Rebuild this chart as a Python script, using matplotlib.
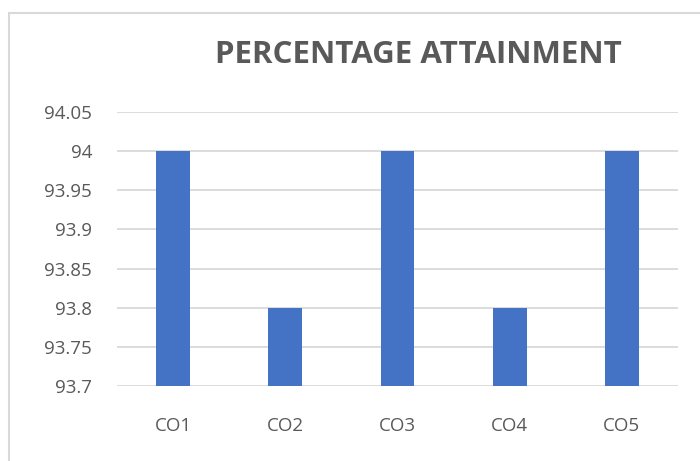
import matplotlib.pyplot as plt
from matplotlib.patches import Rectangle

# Data
categories = ['CO1', 'CO2', 'CO3', 'CO4', 'CO5']
attainment = [94, 93.8, 94, 93.8, 94]
y_ticks = [93.7, 93.75, 93.8, 93.85, 93.9, 93.95, 94, 94.05]
y_tick_labels = ['93.7', '93.75', '93.8', '93.85', '93.9', '93.95', '94', '94.05']

plt.rcParams['font.family'] = ['Open Sans', 'DejaVu Sans']
text_gray = '#595959'
grid_gray = '#D9D9D9'

W, H = 700, 461
fig = plt.figure(figsize=(W / 100, H / 100), dpi=100)

# outer chart border (cropped on right and bottom)
fig.add_artist(Rectangle((9 / W, -0.1), 1.2, 1 - 13 / H + 0.1,
                         transform=fig.transFigure, fill=False,
                         edgecolor=grid_gray, linewidth=1.5))

ax = fig.add_axes([117 / W, 1 - 386 / H, (678 - 117) / W, (386 - 112) / H])
x = range(len(categories))
ax.bar(x, attainment, width=0.3, color='#4472C4', zorder=3)

ax.set_xlim(-0.5, len(categories) - 0.5)
ax.set_ylim(93.7, 94.05)
ax.set_yticks(y_ticks)
ax.set_yticklabels(y_tick_labels)
ax.set_xticks(list(x))
ax.set_xticklabels(categories)
ax.tick_params(axis='both', length=0, labelsize=13.5, labelcolor=text_gray)
ax.tick_params(axis='x', pad=22)
ax.tick_params(axis='y', pad=18)

ax.grid(axis='y', color=grid_gray, linewidth=1.3, zorder=0)
for s in ax.spines.values():
    s.set_visible(False)

fig.text(418 / W, 1 - 55 / H, 'PERCENTAGE ATTAINMENT', ha='center', va='center',
         fontsize=22.5, fontweight='bold', color=text_gray)

fig.savefig('out.png', dpi=100)
